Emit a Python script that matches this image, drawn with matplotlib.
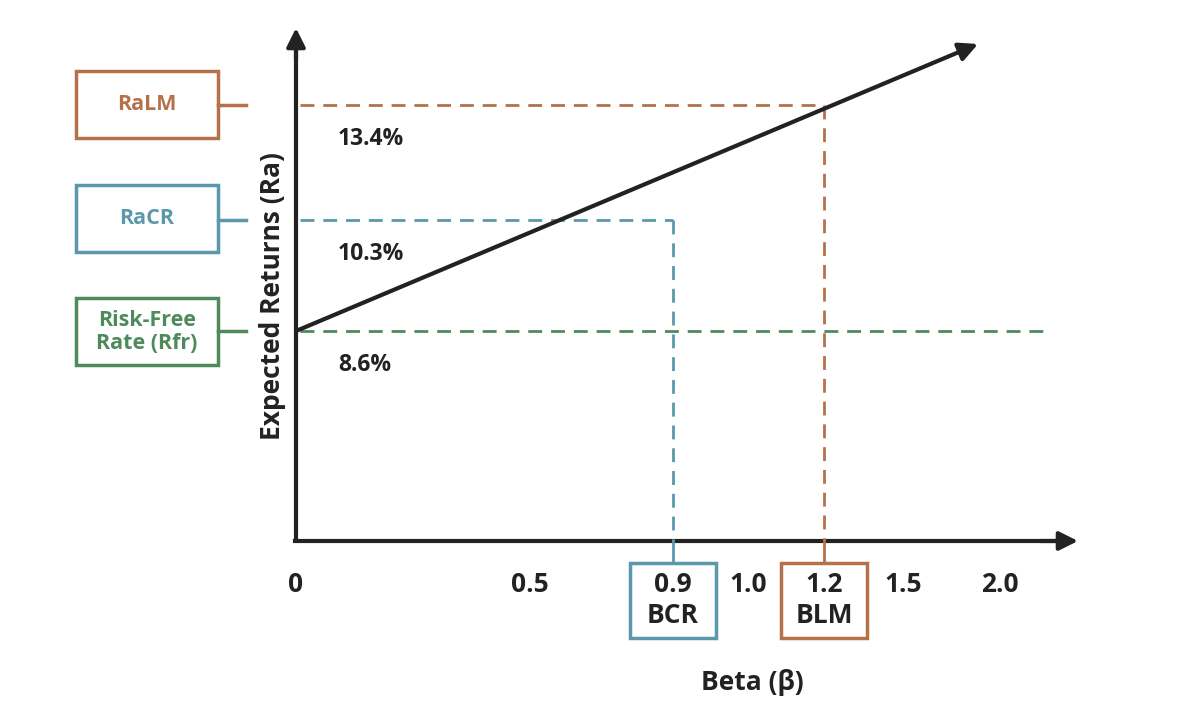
import matplotlib.pyplot as plt
from matplotlib.patches import Rectangle

# values shown on the diagram
beta_ticks = ["0", "0.5", "1.0", "1.5", "2.0"]
return_labels = ["13.4%", "10.3%", "8.6%"]
return_names = ["RaLM", "RaCR", "Risk-Free\nRate (Rfr)"]
beta_points = ["0.9\nBCR", "1.2\nBLM"]

# schematic layout (figure pixels, y down)
ORIGIN = (296, 541)
tick_x = [296, 530, 748, 903, 1000]
level_y = [105, 220, 331]
point_x = [673, 824]
line_end = (978, 44)

BROWN = "#b5714a"
BLUE = "#5b98ab"
GREEN = "#4f8a5d"
DARK = "#222222"
level_colors = [BROWN, BLUE, GREEN]
point_colors = [BLUE, BROWN]
FONT = "Open Sans"

fig = plt.figure(figsize=(11.8, 7.2), dpi=100)
ax = fig.add_axes([0, 0, 1, 1])
ax.set_xlim(0, 1180)
ax.set_ylim(720, 0)
ax.axis("off")

arrow = dict(arrowstyle="-|>", lw=3, color=DARK, mutation_scale=28,
             shrinkA=0, shrinkB=0)
# axes
ax.plot([ORIGIN[0], ORIGIN[0]], [ORIGIN[1] + 2, 50], color=DARK, lw=3,
        solid_capstyle="butt")
ax.annotate("", xy=(ORIGIN[0], 28), xytext=(ORIGIN[0], 60), arrowprops=arrow)
ax.plot([ORIGIN[0] - 1, 1055], [ORIGIN[1], ORIGIN[1]], color=DARK, lw=3)
ax.annotate("", xy=(1078, ORIGIN[1]), xytext=(1040, ORIGIN[1]), arrowprops=arrow)

# security market line
ax.annotate("", xy=line_end, xytext=(ORIGIN[0], level_y[2]), arrowprops=arrow)

dash = (0, (5, 3.2))
# horizontal dashed levels
level_end = [point_x[1], point_x[0], 1045]
for y, xe, c in zip(level_y, level_end, level_colors):
    ax.plot([ORIGIN[0] + 4, xe], [y, y], color=c, lw=2, linestyle=dash)
# vertical dashed drops
for x, y0, c in zip(point_x, [level_y[1], level_y[0]], point_colors):
    ax.plot([x, x], [y0, ORIGIN[1]], color=c, lw=2, linestyle=dash)
    ax.plot([x, x], [ORIGIN[1], 563], color=c, lw=2)

# left boxes
box_tops = [71, 185, 298]
for name, top, y, c in zip(return_names, box_tops, level_y, level_colors):
    ax.add_patch(Rectangle((76, top), 142, 67, fill=False, ec=c, lw=2.5))
    ax.plot([218, 246], [y, y], color=c, lw=2.5)
    ax.text(147, top + 34, name, color=c, fontsize=15.5, fontweight="bold",
            family=FONT, ha="center", va="center", linespacing=1.1)

# percent labels
for lab, y in zip(return_labels, level_y):
    ax.text(338, y + 34, lab, fontsize=16.5, fontweight="bold", family=FONT,
            ha="left", va="center", color=DARK)

# x tick labels
for lab, x in zip(beta_ticks, tick_x):
    ax.text(x, 584, lab, fontsize=19, fontweight="bold", family=FONT,
            ha="center", va="center", color=DARK)

# bottom boxes
for lab, x, c in zip(beta_points, point_x, point_colors):
    ax.add_patch(Rectangle((x - 43, 563), 86, 75, fill=False, ec=c, lw=2.5))
    ax.text(x, 600, lab, fontsize=19, fontweight="bold", family=FONT,
            ha="center", va="center", color=DARK, linespacing=1.15)

ax.text(752, 682, "Beta (β)", fontsize=19, fontweight="bold", family=FONT,
        ha="center", va="center", color=DARK)
ax.text(272, 296, "Expected Returns (Ra)", fontsize=19, fontweight="bold",
        family=FONT, ha="center", va="center", rotation=90, color=DARK)

fig.savefig("out.png", dpi=100)
